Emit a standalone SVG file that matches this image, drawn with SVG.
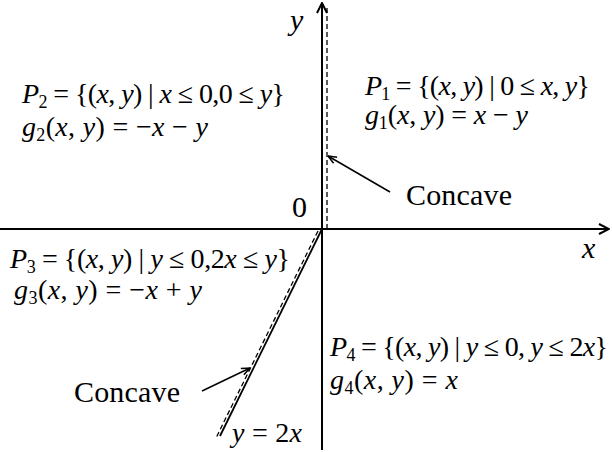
<svg xmlns="http://www.w3.org/2000/svg" width="612" height="452" viewBox="0 0 612 452">
<style>
text{font-family:"Liberation Serif","Times New Roman",serif;fill:#000}
.m{font-size:28px}
.i{font-style:italic}
.s{font-size:18px}
.lbl{font-size:30px}
.ax{stroke:#000;stroke-width:2;fill:none}
.sol{stroke:#000;stroke-width:1.8;fill:none}
.dash{stroke:#000;stroke-width:1.3;stroke-dasharray:5,3;fill:none}
.ptr{stroke:#000;stroke-width:1.5;fill:none}
</style>
<defs>
<marker id="axArrow" viewBox="0 0 12 12" refX="11" refY="6" markerWidth="12" markerHeight="12" markerUnits="userSpaceOnUse" orient="auto">
<path d="M1,1 L11,6 L1,11" stroke="#000" stroke-width="2" fill="none"/>
</marker>
<marker id="ptArrow" viewBox="0 0 10 10" refX="9.5" refY="5" markerWidth="10" markerHeight="10" markerUnits="userSpaceOnUse" orient="auto">
<path d="M1,1.5 L9.5,5 L1,8.5" stroke="#000" stroke-width="1.5" fill="none"/>
</marker>
</defs>

<g id="connectors">
<line class="ax" x1="0" y1="229" x2="609" y2="229" marker-end="url(#axArrow)"/>
<line class="ax" x1="322" y1="450" x2="322" y2="3" marker-end="url(#axArrow)"/>
<line class="dash" x1="327" y1="8" x2="327" y2="228"/>
<line class="sol" x1="322" y1="229" x2="220" y2="436"/>
<line class="dash" x1="318" y1="231" x2="216" y2="438"/>
<line class="ptr" x1="390" y1="192" x2="328" y2="156" marker-end="url(#ptArrow)"/>
<line class="ptr" x1="202" y1="391" x2="250" y2="368" marker-end="url(#ptArrow)"/>
</g>

<g id="axis-labels">
<text class="lbl i" x="290" y="30">y</text>
<text class="lbl i" x="582" y="258">x</text>
<text class="lbl" x="292" y="217">0</text>
<text class="m" x="232" y="442" textLength="70" lengthAdjust="spacing"><tspan class="i">y</tspan> = 2<tspan class="i">x</tspan></text>
</g>

<g id="concave-upper">
<text class="lbl" x="406" y="205" textLength="106" lengthAdjust="spacing">Concave</text>
</g>
<g id="concave-lower">
<text class="lbl" x="74" y="402" textLength="106" lengthAdjust="spacing">Concave</text>
</g>

<g id="P2">
<text class="m" x="22" y="103" textLength="263" lengthAdjust="spacing"><tspan class="i">P</tspan><tspan class="s" dy="5">2</tspan><tspan dy="-5"> = {(</tspan><tspan class="i">x</tspan>, <tspan class="i">y</tspan>) | <tspan class="i">x</tspan> ≤ 0,0 ≤ <tspan class="i">y</tspan>}</text>
<text class="m" x="22" y="136" textLength="186" lengthAdjust="spacing"><tspan class="i">g</tspan><tspan class="s" dy="5">2</tspan><tspan dy="-5">(</tspan><tspan class="i">x</tspan>, <tspan class="i">y</tspan>) = −<tspan class="i">x</tspan> − <tspan class="i">y</tspan></text>
</g>

<g id="P1">
<text class="m" x="365" y="95" textLength="225" lengthAdjust="spacing"><tspan class="i">P</tspan><tspan class="s" dy="5">1</tspan><tspan dy="-5"> = {(</tspan><tspan class="i">x</tspan>, <tspan class="i">y</tspan>) | 0 ≤ <tspan class="i">x</tspan>, <tspan class="i">y</tspan>}</text>
<text class="m" x="365" y="124" textLength="163" lengthAdjust="spacing"><tspan class="i">g</tspan><tspan class="s" dy="5">1</tspan><tspan dy="-5">(</tspan><tspan class="i">x</tspan>, <tspan class="i">y</tspan>) = <tspan class="i">x</tspan> − <tspan class="i">y</tspan></text>
</g>

<g id="P3">
<text class="m" x="10" y="268" textLength="280" lengthAdjust="spacing"><tspan class="i">P</tspan><tspan class="s" dy="5">3</tspan><tspan dy="-5"> = {(</tspan><tspan class="i">x</tspan>, <tspan class="i">y</tspan>) | <tspan class="i">y</tspan> ≤ 0,2<tspan class="i">x</tspan> ≤ <tspan class="i">y</tspan>}</text>
<text class="m" x="14" y="299" textLength="188" lengthAdjust="spacing"><tspan class="i">g</tspan><tspan class="s" dy="5">3</tspan><tspan dy="-5">(</tspan><tspan class="i">x</tspan>, <tspan class="i">y</tspan>) = −<tspan class="i">x</tspan> + <tspan class="i">y</tspan></text>
</g>

<g id="P4">
<text class="m" x="330" y="356" textLength="278" lengthAdjust="spacing"><tspan class="i">P</tspan><tspan class="s" dy="5">4</tspan><tspan dy="-5"> = {(</tspan><tspan class="i">x</tspan>, <tspan class="i">y</tspan>) | <tspan class="i">y</tspan> ≤ 0, <tspan class="i">y</tspan> ≤ 2<tspan class="i">x</tspan>}</text>
<text class="m" x="330" y="389" textLength="128" lengthAdjust="spacing"><tspan class="i">g</tspan><tspan class="s" dy="5">4</tspan><tspan dy="-5">(</tspan><tspan class="i">x</tspan>, <tspan class="i">y</tspan>) = <tspan class="i">x</tspan></text>
</g>
</svg>
